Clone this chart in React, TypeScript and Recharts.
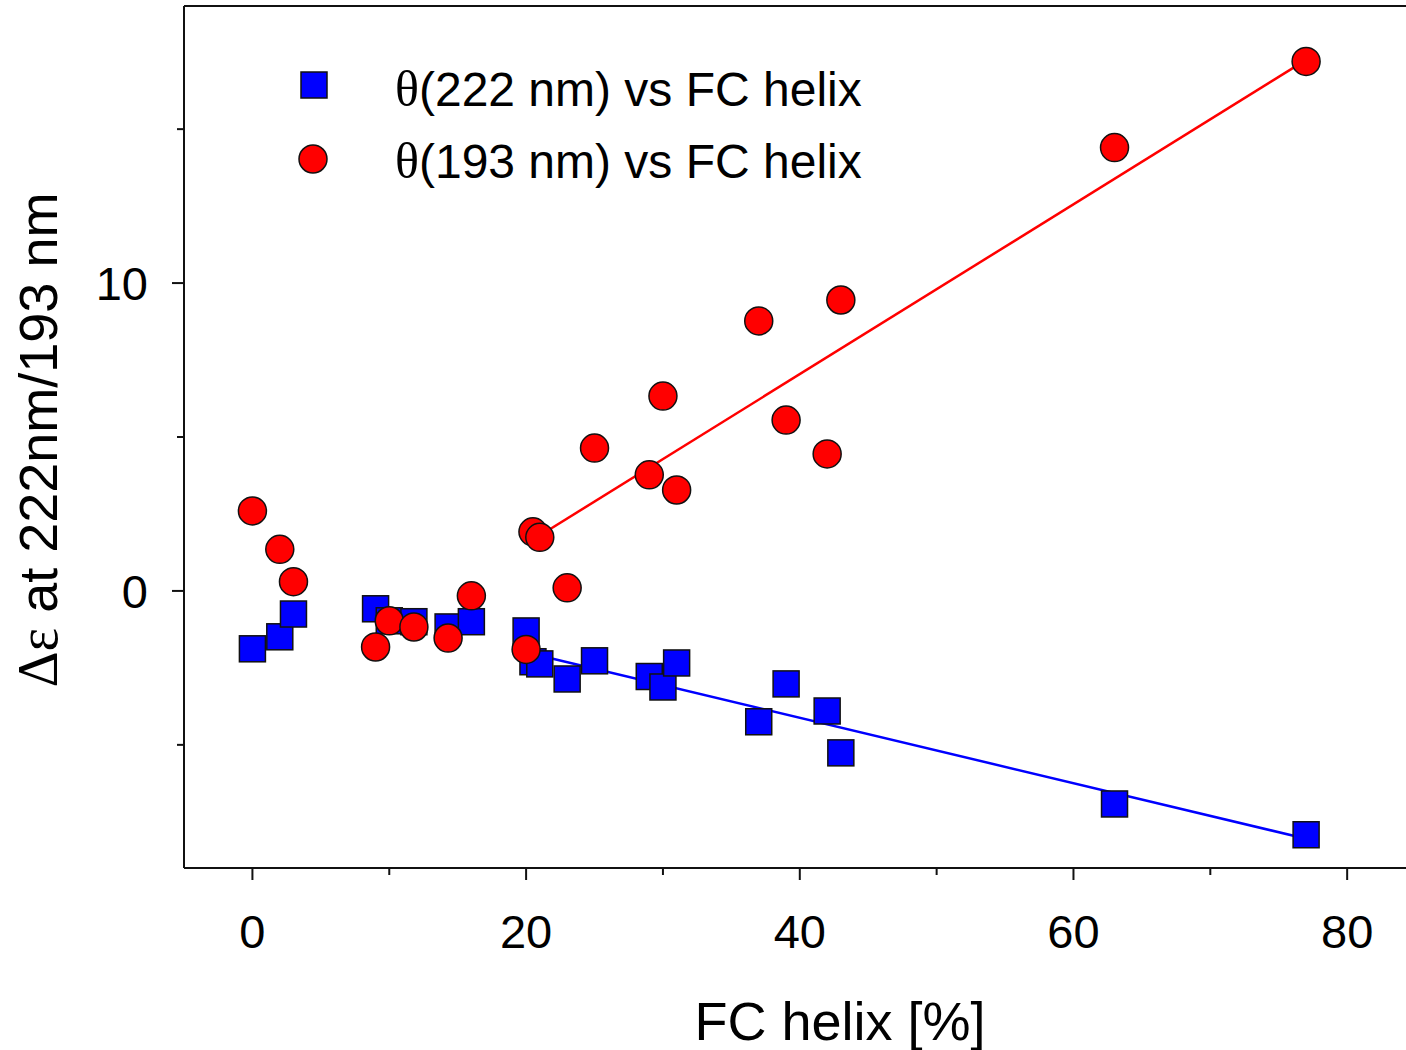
import { Label, Legend, ReferenceLine, Scatter, ScatterChart, XAxis, YAxis } from 'recharts'

const fcHelix = [0, 2, 3, 9, 10, 11.8, 14.3, 16, 20, 20.5, 21, 23, 25, 29, 30, 31, 37, 39, 42, 43, 63, 77]
const theta193 = [2.6, 1.35, 0.3, -1.82, -0.97, -1.17, -1.53, -0.16, -1.9, 1.92, 1.74, 0.1, 4.64, 3.77, 6.33, 3.28, 8.77, 5.55, 4.45, 9.45, 14.4, 17.2]
const theta222 = [-1.88, -1.49, -0.75, -0.58, -0.97, -1.0, -1.17, -1.0, -1.3, -2.3, -2.37, -2.86, -2.27, -2.78, -3.12, -2.34, -4.25, -3.02, -3.9, -5.26, -6.92, -7.92]

const fitX193 = [21, 77]
const fitY193 = [1.8, 17.25]
const fitX222 = [20.5, 77]
const fitY222 = [-2.05, -8.05]

const xTicks = [0, 10, 20, 30, 40, 50, 60, 70, 80]
const xLabels = [0, 20, 40, 60, 80]
const yTicks = [-5, 0, 5, 10, 15]
const yLabels = [0, 10]

const legendLabels = ['(222 nm) vs FC helix', '(193 nm) vs FC helix']

const sans = '"Liberation Sans", Arial, sans-serif'
const serif = '"Liberation Serif", "Times New Roman", serif'

const pts = (xs: number[], ys: number[]) => xs.map((x, i) => ({ x, y: ys[i] }))
const data193 = pts(fcHelix, theta193)
const data222 = pts(fcHelix, theta222)
const fit193 = pts(fitX193, fitY193)
const fit222 = pts(fitX222, fitY222)

const Square = ({ cx, cy }: any) => (
	<rect x={cx - 13} y={cy - 13} width={26} height={26} fill="#0000ff" stroke="#111" strokeWidth={1.5} />
)
const Dot = ({ cx, cy }: any) => (
	<circle cx={cx} cy={cy} r={14} fill="#ff0000" stroke="#111" strokeWidth={1.5} />
)

const XTick = ({ x, y, payload }: any) => {
	const major = xLabels.includes(payload.value)
	return (
		<g>
			<line x1={x} x2={x} y1={y} y2={y + (major ? 12 : 7)} stroke="#111" strokeWidth={2} />
			{major && (
				<text x={x} y={y + 80} textAnchor="middle" fontFamily={sans} fontSize={47} fill="#000">
					{payload.value}
				</text>
			)}
		</g>
	)
}

const YTick = ({ x, y, payload }: any) => {
	const major = yLabels.includes(payload.value)
	return (
		<g>
			<line x1={x} x2={x - (major ? 12 : 7)} y1={y} y2={y} stroke="#111" strokeWidth={2} />
			{major && (
				<text x={x - 36} y={y + 17} textAnchor="end" fontFamily={sans} fontSize={47} fill="#000">
					{payload.value}
				</text>
			)}
		</g>
	)
}

const LegendBox = () => (
	<svg width={900} height={200} style={{ display: 'block' }}>
		<rect x={301} y={72} width={26} height={26} fill="#0000ff" stroke="#111" strokeWidth={1.5} />
		<circle cx={313} cy={159} r={14} fill="#ff0000" stroke="#111" strokeWidth={1.5} />
		{legendLabels.map((t, i) => (
			<text key={t} x={395} y={106 + i * 72} fontFamily={sans} fontSize={48} fill="#000">
				<tspan fontFamily={serif} fontSize={50}>θ</tspan>
				{t}
			</text>
		))}
	</svg>
)

export default function App() {
	return (
		<div style={{ position: 'fixed', left: 0, top: 0, background: '#fff' }}>
			<ScatterChart width={1406} height={1050} margin={{ top: 6, right: 0, bottom: 0, left: 0 }}>
				<XAxis
					type="number"
					dataKey="x"
					domain={[-5, 84.3]}
					allowDataOverflow
					ticks={xTicks}
					interval={0}
					height={182}
					tickSize={0}
					tickMargin={0}
					tickLine={false}
					tick={(p: any) => <XTick {...p} />}
					axisLine={{ stroke: '#111', strokeWidth: 2 }}
				>
					<Label
						content={({ viewBox }: any) => (
							<text x={viewBox.x + 656} y={viewBox.y + 172} textAnchor="middle" fontFamily={sans} fontSize={54} fill="#000">
								FC helix [%]
							</text>
						)}
					/>
				</XAxis>
				<YAxis
					type="number"
					dataKey="y"
					domain={[-9, 19]}
					allowDataOverflow
					ticks={yTicks}
					interval={0}
					width={184}
					tickSize={0}
					tickMargin={0}
					tickLine={false}
					tick={(p: any) => <YTick {...p} />}
					axisLine={{ stroke: '#111', strokeWidth: 2 }}
				>
					<Label
						content={({ viewBox }: any) => {
							const cx = viewBox.x + 57
							const cy = viewBox.y + viewBox.height / 2 + 3
							return (
								<text x={cx} y={cy} transform={`rotate(-90 ${cx} ${cy})`} textAnchor="middle" fontFamily={sans} fontSize={54} fill="#000">
									<tspan fontFamily={serif} fontSize={56}>Δε</tspan> at 222nm/193 nm
								</text>
							)
						}}
					/>
				</YAxis>
				<ReferenceLine y={19} stroke="#111" strokeWidth={2} />
				<Scatter data={fit222} line={{ stroke: '#0000ff', strokeWidth: 2.5 }} shape={() => <g />} isAnimationActive={false} />
				<Scatter data={fit193} line={{ stroke: '#ff0000', strokeWidth: 2.5 }} shape={() => <g />} isAnimationActive={false} />
				<Scatter data={data222} shape={(p: any) => <Square {...p} />} isAnimationActive={false} />
				<Scatter data={data193} shape={(p: any) => <Dot {...p} />} isAnimationActive={false} />
				<Legend
					layout="vertical"
					align="center"
					verticalAlign="middle"
					content={() => <LegendBox />}
					wrapperStyle={{ position: 'absolute', left: 0, top: 0, width: 900, height: 200 }}
				/>
			</ScatterChart>
		</div>
	)
}
